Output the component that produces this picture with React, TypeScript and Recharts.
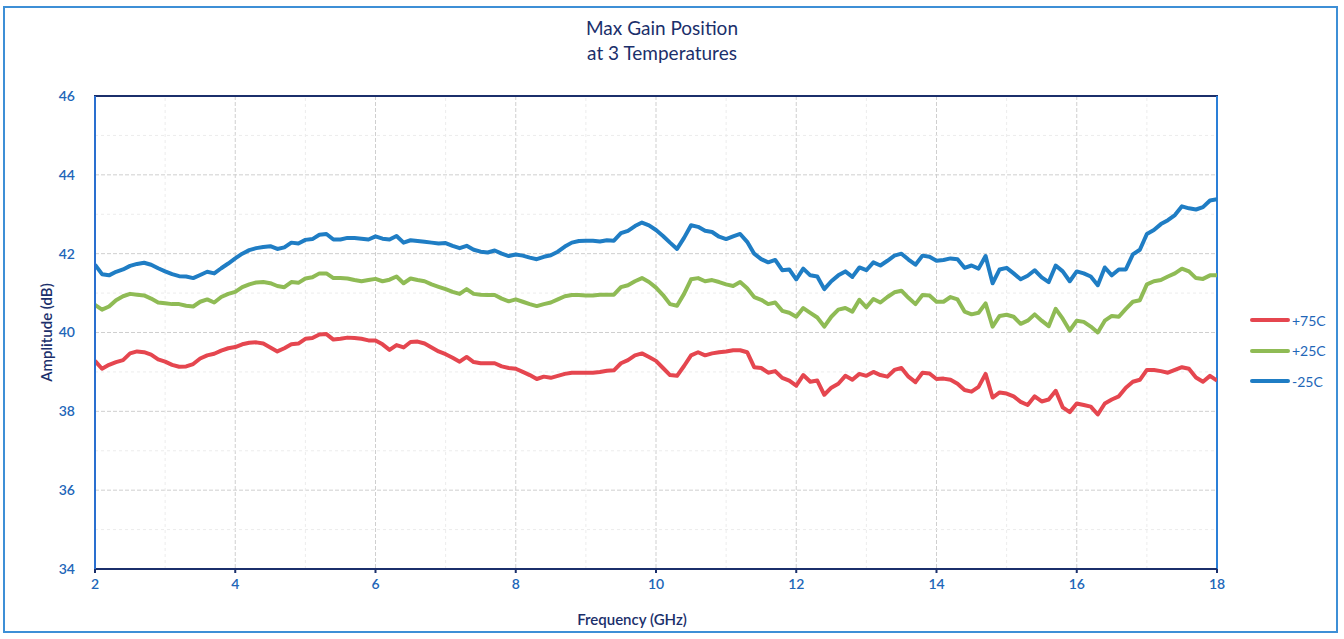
import React from "react";
import {
  LineChart,
  Line,
  XAxis,
  YAxis,
  CartesianGrid,
  ReferenceArea,
  ReferenceLine,
  Label,
} from "recharts";

// sweep points, GHz
const freqs = [
  2.0, 2.1, 2.2, 2.3, 2.4, 2.5, 2.6, 2.7, 2.8, 2.9,
  3.0, 3.1, 3.2, 3.3, 3.4, 3.5, 3.6, 3.7, 3.8, 3.9,
  4.0, 4.1, 4.2, 4.3, 4.4, 4.5, 4.6, 4.7, 4.8, 4.9,
  5.0, 5.1, 5.2, 5.3, 5.4, 5.5, 5.6, 5.7, 5.8, 5.9,
  6.0, 6.1, 6.2, 6.3, 6.4, 6.5, 6.6, 6.7, 6.8, 6.9,
  7.0, 7.1, 7.2, 7.3, 7.4, 7.5, 7.6, 7.7, 7.8, 7.9,
  8.0, 8.1, 8.2, 8.3, 8.4, 8.5, 8.6, 8.7, 8.8, 8.9,
  9.0, 9.1, 9.2, 9.3, 9.4, 9.5, 9.6, 9.7, 9.8, 9.9,
  10.0, 10.1, 10.2, 10.3, 10.4, 10.5, 10.6, 10.7, 10.8, 10.9,
  11.0, 11.1, 11.2, 11.3, 11.4, 11.5, 11.6, 11.7, 11.8, 11.9,
  12.0, 12.1, 12.2, 12.3, 12.4, 12.5, 12.6, 12.7, 12.8, 12.9,
  13.0, 13.1, 13.2, 13.3, 13.4, 13.5, 13.6, 13.7, 13.8, 13.9,
  14.0, 14.1, 14.2, 14.3, 14.4, 14.5, 14.6, 14.7, 14.8, 14.9,
  15.0, 15.1, 15.2, 15.3, 15.4, 15.5, 15.6, 15.7, 15.8, 15.9,
  16.0, 16.1, 16.2, 16.3, 16.4, 16.5, 16.6, 16.7, 16.8, 16.9,
  17.0, 17.1, 17.2, 17.3, 17.4, 17.5, 17.6, 17.7, 17.8, 17.9,
  18.0,
];

const hot75 = [
  39.28, 39.08, 39.18, 39.25, 39.3, 39.47, 39.52, 39.5, 39.44, 39.32,
  39.26, 39.18, 39.13, 39.14, 39.2, 39.34, 39.42, 39.46, 39.54, 39.6,
  39.63, 39.7, 39.74, 39.75, 39.72, 39.62, 39.52, 39.6, 39.7, 39.72,
  39.84, 39.86, 39.95, 39.96, 39.82, 39.84, 39.87, 39.86, 39.84, 39.8,
  39.8, 39.7, 39.56, 39.68, 39.62, 39.76, 39.77, 39.72, 39.62, 39.52,
  39.45, 39.36, 39.26, 39.38, 39.25, 39.22, 39.22, 39.22, 39.14, 39.1,
  39.08, 39.0, 38.92, 38.82, 38.88, 38.85, 38.9, 38.95, 38.98, 38.98,
  38.98, 38.98, 39.0, 39.03, 39.04, 39.22, 39.3, 39.42, 39.47, 39.38,
  39.28, 39.1, 38.92, 38.9, 39.15, 39.42, 39.5, 39.42, 39.47, 39.5,
  39.52, 39.55, 39.55, 39.5, 39.12, 39.1, 38.98, 39.02, 38.85, 38.78,
  38.65, 38.92, 38.75, 38.78, 38.42, 38.6, 38.7, 38.9, 38.8, 38.95,
  38.9, 39.0, 38.92, 38.88, 39.05, 39.1, 38.88, 38.74, 38.98, 38.96,
  38.82, 38.83, 38.8, 38.7, 38.54, 38.5, 38.62, 38.95, 38.35, 38.48,
  38.45, 38.38, 38.24, 38.16, 38.38, 38.25, 38.3, 38.52, 38.1, 37.98,
  38.2, 38.16, 38.12, 37.92, 38.2, 38.3, 38.38, 38.6, 38.75, 38.8,
  39.05, 39.05, 39.02, 38.98, 39.05, 39.12, 39.08, 38.86, 38.75, 38.9,
  38.78,
];

const room25 = [
  40.7, 40.58, 40.66, 40.82, 40.92, 40.98, 40.96, 40.94, 40.86, 40.76,
  40.74, 40.72, 40.72, 40.68, 40.66, 40.78, 40.84, 40.76, 40.9, 40.98,
  41.03, 41.15, 41.22, 41.27, 41.28, 41.25, 41.18, 41.15, 41.28, 41.26,
  41.37, 41.4, 41.5, 41.5, 41.38, 41.38, 41.37, 41.33, 41.3, 41.33,
  41.36, 41.3, 41.34, 41.42, 41.25, 41.37, 41.33, 41.3, 41.22, 41.16,
  41.1, 41.03, 40.98, 41.1, 40.98, 40.96, 40.95, 40.95, 40.86, 40.79,
  40.84, 40.78, 40.72, 40.67, 40.72, 40.76, 40.84, 40.92, 40.95, 40.95,
  40.94, 40.94, 40.96, 40.96, 40.96, 41.15, 41.2, 41.3, 41.38, 41.28,
  41.14, 40.95, 40.72, 40.68, 40.98, 41.35, 41.38, 41.3, 41.33, 41.28,
  41.22, 41.18, 41.28, 41.12, 40.9, 40.83, 40.72, 40.76, 40.55, 40.5,
  40.4, 40.62, 40.5, 40.38, 40.15, 40.4, 40.58, 40.62, 40.53, 40.83,
  40.64, 40.85, 40.76, 40.9, 41.02, 41.06, 40.88, 40.72, 40.95, 40.94,
  40.78, 40.78, 40.9, 40.84, 40.53, 40.46, 40.5, 40.74, 40.15, 40.42,
  40.45, 40.4, 40.22, 40.3, 40.46, 40.3, 40.16, 40.6, 40.35, 40.05,
  40.3, 40.27, 40.15, 40.0, 40.3, 40.42, 40.4, 40.6, 40.78, 40.82,
  41.22, 41.3, 41.33, 41.42, 41.5, 41.62, 41.55, 41.38, 41.36, 41.45,
  41.45,
];

const cold25 = [
  41.72, 41.48, 41.45, 41.54, 41.6, 41.69, 41.74, 41.77, 41.72, 41.63,
  41.55, 41.48, 41.43, 41.42, 41.38, 41.46, 41.54, 41.5, 41.63, 41.75,
  41.88, 42.0, 42.09, 42.14, 42.17, 42.19, 42.12, 42.16, 42.28, 42.26,
  42.35, 42.37, 42.48, 42.5, 42.36, 42.36, 42.4, 42.4, 42.38, 42.36,
  42.44, 42.38, 42.36, 42.45, 42.28, 42.34, 42.32, 42.3, 42.28, 42.26,
  42.27, 42.2, 42.14, 42.2, 42.1, 42.05, 42.03, 42.08, 42.0, 41.94,
  41.98, 41.95, 41.9, 41.86, 41.92, 41.96, 42.05, 42.18, 42.28, 42.32,
  42.33, 42.33, 42.31, 42.34, 42.33, 42.52, 42.58, 42.7, 42.79, 42.72,
  42.6, 42.45, 42.28, 42.12, 42.4, 42.72, 42.68, 42.58, 42.55, 42.43,
  42.37, 42.44, 42.5, 42.3, 42.0, 41.86, 41.78, 41.84, 41.58, 41.6,
  41.35, 41.62, 41.45, 41.42, 41.1, 41.3, 41.45, 41.55, 41.41, 41.65,
  41.58, 41.78, 41.7, 41.82, 41.95, 42.0, 41.85, 41.72, 41.95, 41.92,
  41.82, 41.84, 41.88, 41.86, 41.64, 41.7, 41.62, 41.94, 41.25, 41.6,
  41.64, 41.5, 41.35, 41.44, 41.58, 41.4, 41.28, 41.7, 41.55, 41.3,
  41.55, 41.5, 41.42, 41.2, 41.65, 41.45, 41.6, 41.6, 41.98, 42.1,
  42.5, 42.6, 42.75, 42.85, 42.98, 43.2, 43.15, 43.12, 43.18, 43.35,
  43.38,
];

const xTicks = [2, 4, 6, 8, 10, 12, 14, 16, 18];
const yTicks = [34, 36, 38, 40, 42, 44, 46];
const xMinor = [3, 5, 7, 9, 11, 13, 15, 17];
const yMinor = [35, 37, 39, 41, 43, 45];

const series = [
  { key: "t75", name: "+75C", color: "#e5464f" },
  { key: "t25", name: "+25C", color: "#8fbb55" },
  { key: "tm25", name: "-25C", color: "#1f7dc4" },
];

const data = freqs.map((f, i) => ({
  f,
  t75: hot75[i],
  t25: room25[i],
  tm25: cold25[i],
}));

const FONT = "Lato, 'Open Sans', sans-serif";
const TICK_BLUE = "#2166b8";
const NAVY = "#1b2f6b";

function LegendBox() {
  return (
    <div
      style={{
        position: "absolute",
        left: 1250,
        top: 305,
        fontFamily: FONT,
      }}
    >
      {series.map((s) => (
        <div
          key={s.key}
          style={{ display: "flex", alignItems: "center", height: 30.5 }}
        >
          <div
            style={{
              width: 40,
              height: 4,
              borderRadius: 2,
              background: s.color,
              marginRight: 2,
            }}
          />
          <span style={{ color: TICK_BLUE, fontSize: 14 }}>{s.name}</span>
        </div>
      ))}
    </div>
  );
}

export default function App() {
  return (
    <div
      style={{
        position: "absolute",
        left: 0,
        top: 0,
        width: 1344,
        height: 639,
        background: "#fff",
        fontFamily: FONT,
      }}
    >
      <div
        style={{
          position: "absolute",
          left: 3,
          top: 6,
          width: 1335,
          height: 627,
          border: "2px solid #3d8fd6",
          boxSizing: "border-box",
        }}
      />
      <div
        style={{
          position: "absolute",
          left: 0,
          top: 15,
          width: 1324,
          textAlign: "center",
          color: NAVY,
          fontSize: 19,
          lineHeight: "25px",
        }}
      >
        Max Gain Position
        <br />
        at 3 Temperatures
      </div>
      <LineChart
        width={1344}
        height={639}
        data={data}
        margin={{ top: 96, right: 127, bottom: 40, left: 35 }}
        style={{ position: "absolute", left: 0, top: 0 }}
      >
        {xMinor.map((v) => (
          <ReferenceLine key={"xm" + v} x={v} stroke="#ececec" strokeDasharray="3 3" />
        ))}
        {yMinor.map((v) => (
          <ReferenceLine key={"ym" + v} y={v} stroke="#ececec" strokeDasharray="3 3" />
        ))}
        <CartesianGrid stroke="#cfcfcf" strokeDasharray="4 2" />
        <XAxis
          dataKey="f"
          type="number"
          domain={[2, 18]}
          ticks={xTicks}
          allowDataOverflow
          axisLine={{ stroke: NAVY, strokeWidth: 2 }}
          tickLine={{ stroke: NAVY, strokeWidth: 2 }}
          tickSize={4}
          tick={{ fill: TICK_BLUE, fontSize: 14, fontWeight: 600 }}
          tickMargin={6}
          height={30}
        >
          <Label
            value="Frequency (GHz)"
            position="insideBottom"
            offset={-26}
            dx={-24}
            style={{ fill: NAVY, fontSize: 15, fontWeight: 600 }}
          />
        </XAxis>
        <YAxis
          type="number"
          domain={[34, 46]}
          ticks={yTicks}
          allowDataOverflow
          axisLine={{ stroke: "#2a6fcf", strokeWidth: 2 }}
          tickLine={false}
          tick={{ fill: TICK_BLUE, fontSize: 14, fontWeight: 600 }}
          tickMargin={14}
          width={60}
        >
          <Label
            value="Amplitude (dB)"
            angle={-90}
            position="insideLeft"
            offset={12}
            style={{ fill: NAVY, fontSize: 15, fontWeight: 600, textAnchor: "middle" }}
          />
        </YAxis>
        <ReferenceArea
          x1={2}
          x2={18}
          y1={34}
          y2={46}
          fill="none"
          stroke={NAVY}
          strokeWidth={2}
          ifOverflow="visible"
        />
        <ReferenceLine x={18} stroke="#2a7fd8" strokeWidth={2} />
        <ReferenceLine x={2} stroke="#2a6fcf" strokeWidth={2} />
        {series.map((s) => (
          <Line
            key={s.key}
            type="linear"
            dataKey={s.key}
            name={s.name}
            stroke={s.color}
            strokeWidth={4}
            strokeLinejoin="round"
            dot={false}
            isAnimationActive={false}
          />
        ))}
      </LineChart>
      <LegendBox />
    </div>
  );
}
